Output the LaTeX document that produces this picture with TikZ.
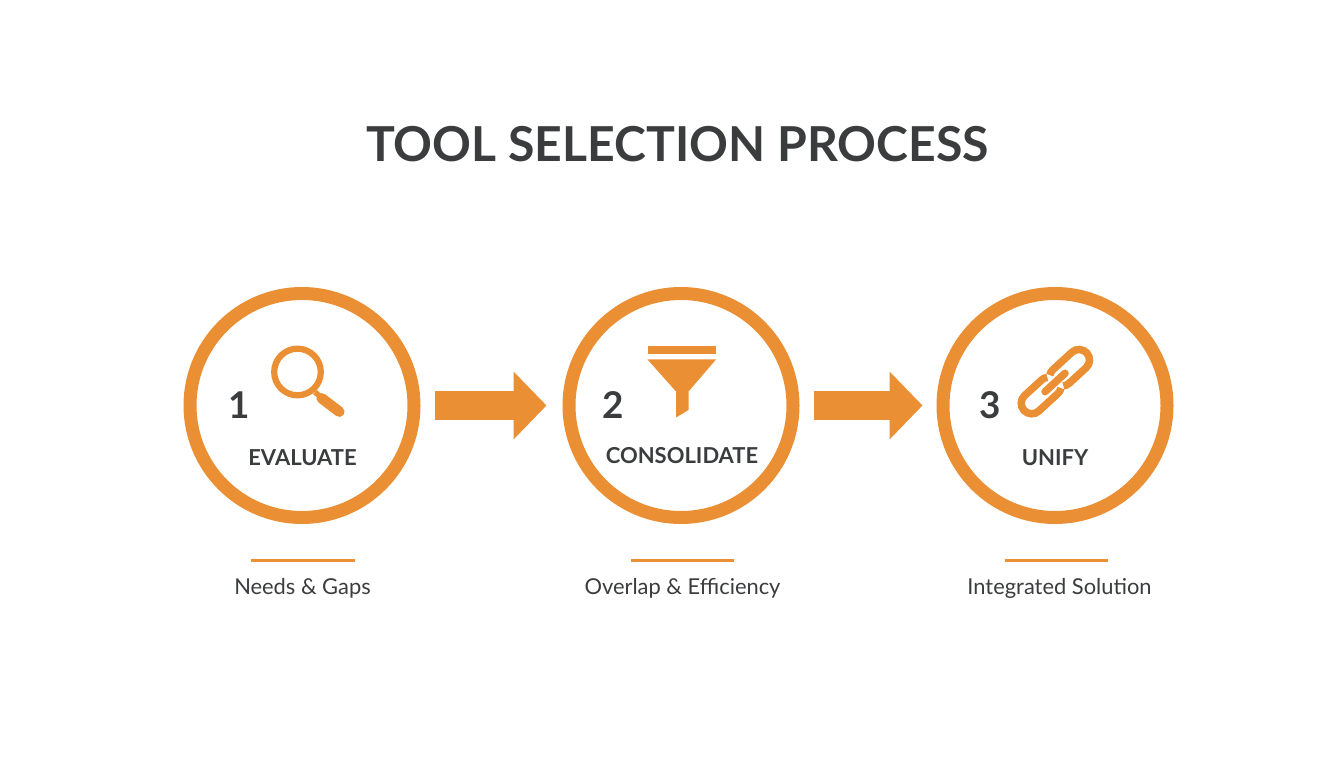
\documentclass[tikz,border=0pt]{standalone}
\usepackage{fontspec}
\setmainfont{Lato}
\usetikzlibrary{arrows.meta}
\definecolor{toolorange}{HTML}{EB8F34}
\definecolor{tooldark}{HTML}{3B3C3E}
\tikzset{
 stepring/.style={circle, draw=toolorange, line width=0.26cm, minimum size=4.48cm, inner sep=0pt},
 blockarrow/.style={draw=toolorange, line width=0.58cm, -{Triangle[length=0.66cm,width=1.32cm,fill=toolorange]}},
 titletext/.style={anchor=base, text=tooldark, font=\fontsize{27.4}{30}\bfseries},
 numtext/.style={anchor=base, text=tooldark, font=\fontsize{21}{24}\bfseries},
 steptext/.style={anchor=base, text=tooldark, font=\fontsize{12.5}{14}\bfseries},
 desctext/.style={anchor=base, text=tooldark, font=\fontsize{12.45}{14}\selectfont},
 rulebar/.style={draw=toolorange, line width=0.06cm},
 iconline/.style={draw=toolorange, line width=0.15cm},
 chainlink/.pic={
 \draw[iconline] (-0.636,0.172) arc[start angle=125,end angle=90,radius=0.21] -- (0,0.21) arc[start angle=90,end angle=-90,radius=0.21] -- (-0.46,-0.21) arc[start angle=-90,end angle=-125,radius=0.21];
 }
}
\begin{document}
\begin{tikzpicture}
 \useasboundingbox (0,0) rectangle (26.88,15.36);
 \node[titletext] (title) at (13.55,12.12) {TOOL SELECTION PROCESS};
 % the three rings
 \node[stepring] (evaluate) at (6.04,7.25) {};
 \node[stepring] (consolidate) at (13.62,7.25) {};
 \node[stepring] (unify) at (21.10,7.25) {};
 % arrows
 \draw[blockarrow, shorten <=0.29cm, shorten >=0.32cm] (evaluate.east) -- (consolidate.west);
 \draw[blockarrow, shorten <=0.29cm, shorten >=0.28cm] (consolidate.east) -- (unify.west);
 % numbers
 \node[numtext] (num1) at (4.79,6.99) {1};
 \node[numtext] (num2) at (12.27,6.99) {2};
 \node[numtext] (num3) at (19.81,6.99) {3};
 % names
 \node[steptext] (name1) at (6.05,6.04) {EVALUATE};
 \node[steptext] (name2) at (13.64,6.09) {CONSOLIDATE};
 \node[steptext] (name3) at (21.10,6.04) {UNIFY};
 % rules and captions
 \draw[rulebar] (5.01,4.14) -- (7.09,4.14);
 \draw[rulebar] (12.61,4.14) -- (14.67,4.14);
 \draw[rulebar] (20.10,4.14) -- (22.16,4.14);
 \node[desctext] (desc1) at (6.05,3.46) {Needs \& Gaps};
 \node[desctext] (desc2) at (13.65,3.46) {Overlap \& Efficiency};
 \node[desctext] (desc3) at (21.19,3.46) {Integrated Solution};
 % magnifier
 \draw[toolorange, line width=0.125cm] (5.95,7.92) circle (0.466);
 \draw[toolorange, line width=0.11cm] (6.30,7.52) -- (6.43,7.40);
 \draw[toolorange, line width=0.21cm, line cap=round] (6.434,7.394) -- (6.786,7.126);
 % funnel
 \fill[toolorange] (12.95,8.44) rectangle (14.32,8.27);
 \fill[toolorange] (12.95,8.17) -- (14.32,8.17) -- (13.77,7.53) -- (13.77,7.16) -- (13.52,7.01) -- (13.52,7.53) -- cycle;
 % chain
 \pic[rotate=42.5] at (21.58,8.16) {chainlink};
 \pic[rotate=222.5] at (20.634,7.294) {chainlink};
 \draw[iconline, line cap=round] (20.90,7.526) -- (21.30,7.894);
\end{tikzpicture}
\end{document}
